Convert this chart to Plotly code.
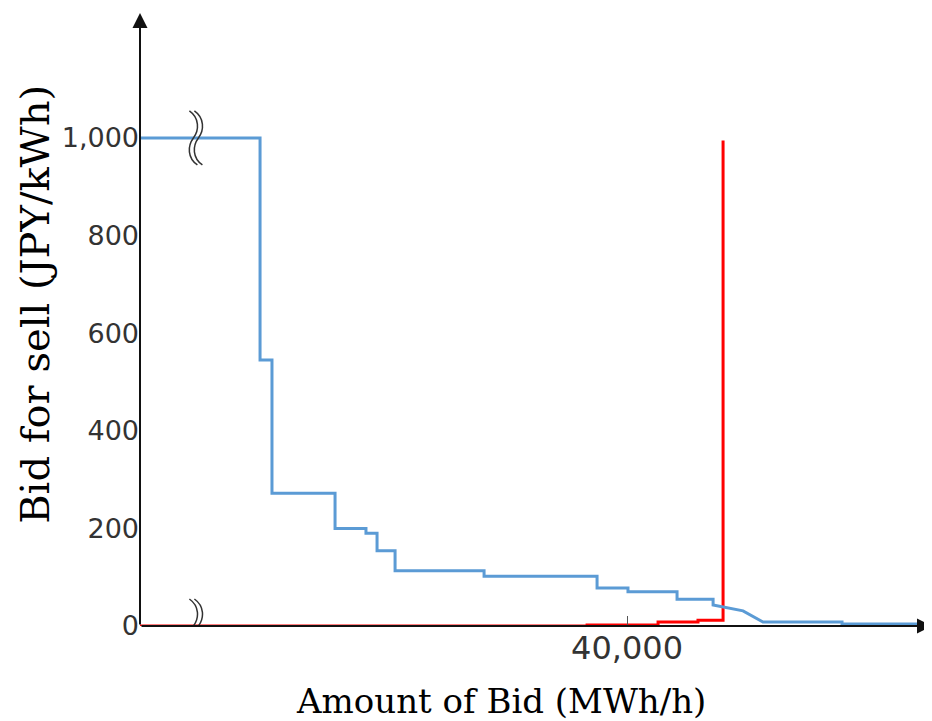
import plotly.graph_objects as go

# ---- data (MWh/h, JPY/kWh) ----
sell_x = [0, 9860, 9860, 10840, 10840, 16020, 16020, 18560, 18560, 19470, 19470,
          20950, 20950, 28260, 28260, 37540, 37540, 40080, 40080, 44110, 44110,
          47070, 47070, 49530, 51170, 51170, 57660, 57660, 65000]
sell_y = [1000, 1000, 545, 545, 272, 272, 200, 200, 190, 190, 154,
          154, 113, 113, 102, 102, 78, 78, 70, 70, 55,
          55, 43, 31, 8, 8, 8, 4, 4]

buy_x = [0, 36720, 36720, 42550, 42550, 45830, 45830, 47890, 47890]
buy_y = [0, 0, 2, 2, 8, 8, 12, 12, 995]

x_ticks = [40000]
x_ticklabels = ["40,000"]
y_ticks = [0, 200, 400, 600, 800, 1000]
y_ticklabels = ["0", "200", "400", "600", "800", "1,000"]

x_title = "Amount of Bid (MWh/h)"
y_title = "Bid for sell (JPY/kWh)"

x_break = 4550
x_max = 65050
y_max = 1256

fig = go.Figure()
fig.add_trace(go.Scatter(x=buy_x, y=buy_y, mode="lines",
                         line=dict(color="#FF0000", width=3), showlegend=False))
fig.add_trace(go.Scatter(x=sell_x, y=sell_y, mode="lines",
                         line=dict(color="#5B9BD5", width=3), showlegend=False))

# axis arrows
fig.add_annotation(x=0, y=y_max, ax=0, ay=0, xref="x", yref="y", axref="x", ayref="y",
                   showarrow=True, arrowhead=2, arrowsize=1.5, arrowwidth=2,
                   arrowcolor="#111111", text="", standoff=0)
fig.add_annotation(x=x_max, y=0, ax=0, ay=0, xref="x", yref="y", axref="x", ayref="y",
                   showarrow=True, arrowhead=2, arrowsize=1.5, arrowwidth=2,
                   arrowcolor="#111111", text="", standoff=0)

# axis titles
fig.add_annotation(text=x_title, xref="paper", yref="paper", x=0.456, y=0,
                   yshift=-75, xanchor="center", yanchor="middle", showarrow=False,
                   font=dict(family="DejaVu Serif", size=34, color="black"))
fig.add_annotation(text=y_title, xref="paper", yref="paper", x=0, y=0.524,
                   xshift=-105, xanchor="center", yanchor="middle", showarrow=False,
                   textangle=-90,
                   font=dict(family="DejaVu Serif", size=40, color="black"))

# break marks
squiggle = "M -6,27 C 4,20 4,8 -2,0 C -8,-8 -8,-20 2,-27"
squiggle2 = "M -1,27 C 9,20 9,8 3,0 C -3,-8 -3,-20 7,-27"
for yb in [1000, 0]:
    for p in (squiggle, squiggle2):
        fig.add_shape(type="path", path=p, xref="x", yref="y",
                      xsizemode="pixel", ysizemode="pixel",
                      xanchor=x_break, yanchor=yb,
                      line=dict(color="#333333", width=1.5))

# the page body has an 8px default margin, so the figure is shrunk to fit the window
fig.update_layout(
    width=924, height=713,
    margin=dict(l=132, r=0, t=5, b=95),
    plot_bgcolor="white", paper_bgcolor="white",
    xaxis=dict(range=[0, x_max], showgrid=False, zeroline=False, showline=False,
               automargin=False,
               tickvals=x_ticks, ticktext=x_ticklabels, ticks="inside", ticklen=10,
               tickcolor="#555555", tickwidth=1,
               tickfont=dict(family="DejaVu Sans", size=32, color="#333333")),
    yaxis=dict(range=[0, y_max], showgrid=False, zeroline=False, showline=False,
               automargin=False,
               tickvals=y_ticks, ticktext=y_ticklabels, ticks="",
               tickfont=dict(family="DejaVu Sans", size=27, color="#333333")),
)

fig.write_html("out.html")
